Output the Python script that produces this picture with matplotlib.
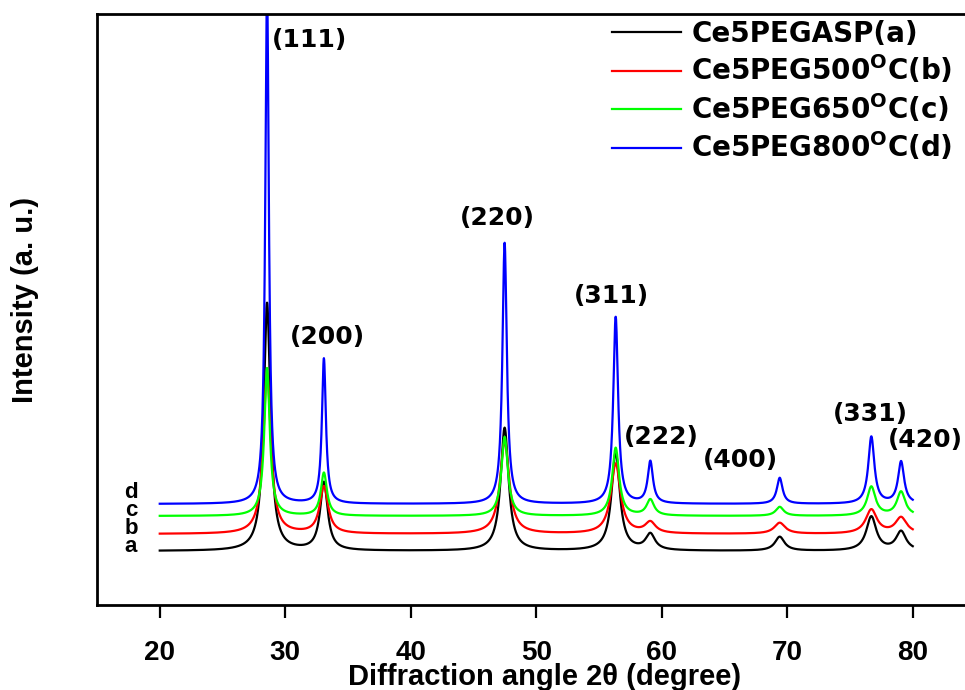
"""XRD patterns of Ce5PEG samples (as-prepared and calcined)."""
import matplotlib

matplotlib.use("Agg")
import matplotlib.pyplot as plt
import numpy as np

# peak positions (2theta) and Miller indices
peak_pos = [28.55, 33.08, 47.48, 56.33, 59.09, 69.40, 76.70, 79.07]
peak_hkl = ["(111)", "(200)", "(220)", "(311)", "(222)", "(400)", "(331)", "(420)"]

# flat background and peak heights above it (a.u.)
bg_a, bg_b, bg_c, bg_d = 54, 71, 89, 101
h_a = [248, 68, 123, 98, 16, 14, 34, 19]
h_b = [161, 47, 92, 70, 11, 11, 24, 16]
h_c = [148, 43, 79, 68, 16, 9, 29, 24]
h_d = [520, 145, 261, 187, 42, 26, 67, 42]

# half widths (degree)
w_a = [0.32, 0.36, 0.38, 0.40, 0.45, 0.46, 0.48, 0.48]
w_b = [0.36, 0.40, 0.44, 0.46, 0.50, 0.52, 0.54, 0.54]
w_c = [0.26, 0.29, 0.31, 0.33, 0.36, 0.38, 0.40, 0.40]
w_d = [0.17, 0.19, 0.21, 0.23, 0.25, 0.27, 0.29, 0.29]

labels = [
    "Ce5PEGASP(a)",
    r"Ce5PEG500$^{\mathrm{O}}$C(b)",
    r"Ce5PEG650$^{\mathrm{O}}$C(c)",
    r"Ce5PEG800$^{\mathrm{O}}$C(d)",
]
colors = ["black", "#ff0000", "#00ff00", "#0000ff"]
tags = ["a", "b", "c", "d"]

two_theta = np.arange(20.0, 80.0001, 0.02)


def pattern(bg, heights, widths):
    y = np.full_like(two_theta, float(bg))
    for x0, h, w in zip(peak_pos, heights, widths):
        y += h / (1.0 + ((two_theta - x0) / w) ** 2)
    return y


plt.rcParams["font.family"] = "DejaVu Sans"
plt.rcParams["font.weight"] = "bold"
narrow = ["Liberation Sans Narrow", "Liberation Sans"]

fig = plt.figure(figsize=(9.65, 6.9), dpi=100)
ax = fig.add_axes([97 / 965, 85 / 690, 878.5 / 965, 591 / 690])

series = [(bg_a, h_a, w_a), (bg_b, h_b, w_b), (bg_c, h_c, w_c), (bg_d, h_d, w_d)]
handles = []
for (bg, h, w), c in zip(series, colors):
    (ln,) = ax.plot(two_theta, pattern(bg, h, w), color=c, linewidth=1.6)
    handles.append(ln)

ax.set_xlim(15, 85)
ax.set_ylim(0, 591)
ax.set_xticks(range(20, 81, 10))
ax.set_yticks([])
for s in ax.spines.values():
    s.set_linewidth(2)
ax.tick_params(axis="x", direction="out", length=9, width=1.6, pad=16)
for t in ax.get_xticklabels():
    t.set_family(narrow)
    t.set_fontsize(20)
    t.set_fontweight("bold")

ax.set_xlabel("Diffraction angle 2\u03b8 (degree)", family=narrow, fontsize=21, fontweight="bold")
ax.xaxis.set_label_coords(0.51, -0.098)
ax.set_ylabel("Intensity (a. u.)", family=narrow, fontsize=21, fontweight="bold")
ax.yaxis.set_label_coords(-0.066, 0.516)

# peak labels
ann_x = [31.95, 33.39, 46.93, 56.0, 60.0, 66.3, 76.65, 81.04]
ann_y = [565, 268, 387, 309, 168, 145, 191, 165]
for x, y, s in zip(ann_x, ann_y, peak_hkl):
    ax.text(x, y, s, ha="center", va="center", fontsize=18, fontweight="bold")

# curve tags on the left
tag_y = [58, 76, 94, 112]
for t, y in zip(tags, tag_y):
    ax.text(17.7, y, t, ha="center", va="center", fontsize=16, fontweight="bold",
            family=narrow[1])

ax.legend(
    handles,
    labels,
    loc="upper left",
    bbox_to_anchor=(612 / 965, (690 - 20) / 690),
    bbox_transform=fig.transFigure,
    frameon=False,
    fontsize=20,
    handlelength=2.5,
    handletextpad=0.35,
    labelspacing=0.2,
    borderpad=0,
    borderaxespad=0,
)

fig.savefig("out.png", dpi=100)
